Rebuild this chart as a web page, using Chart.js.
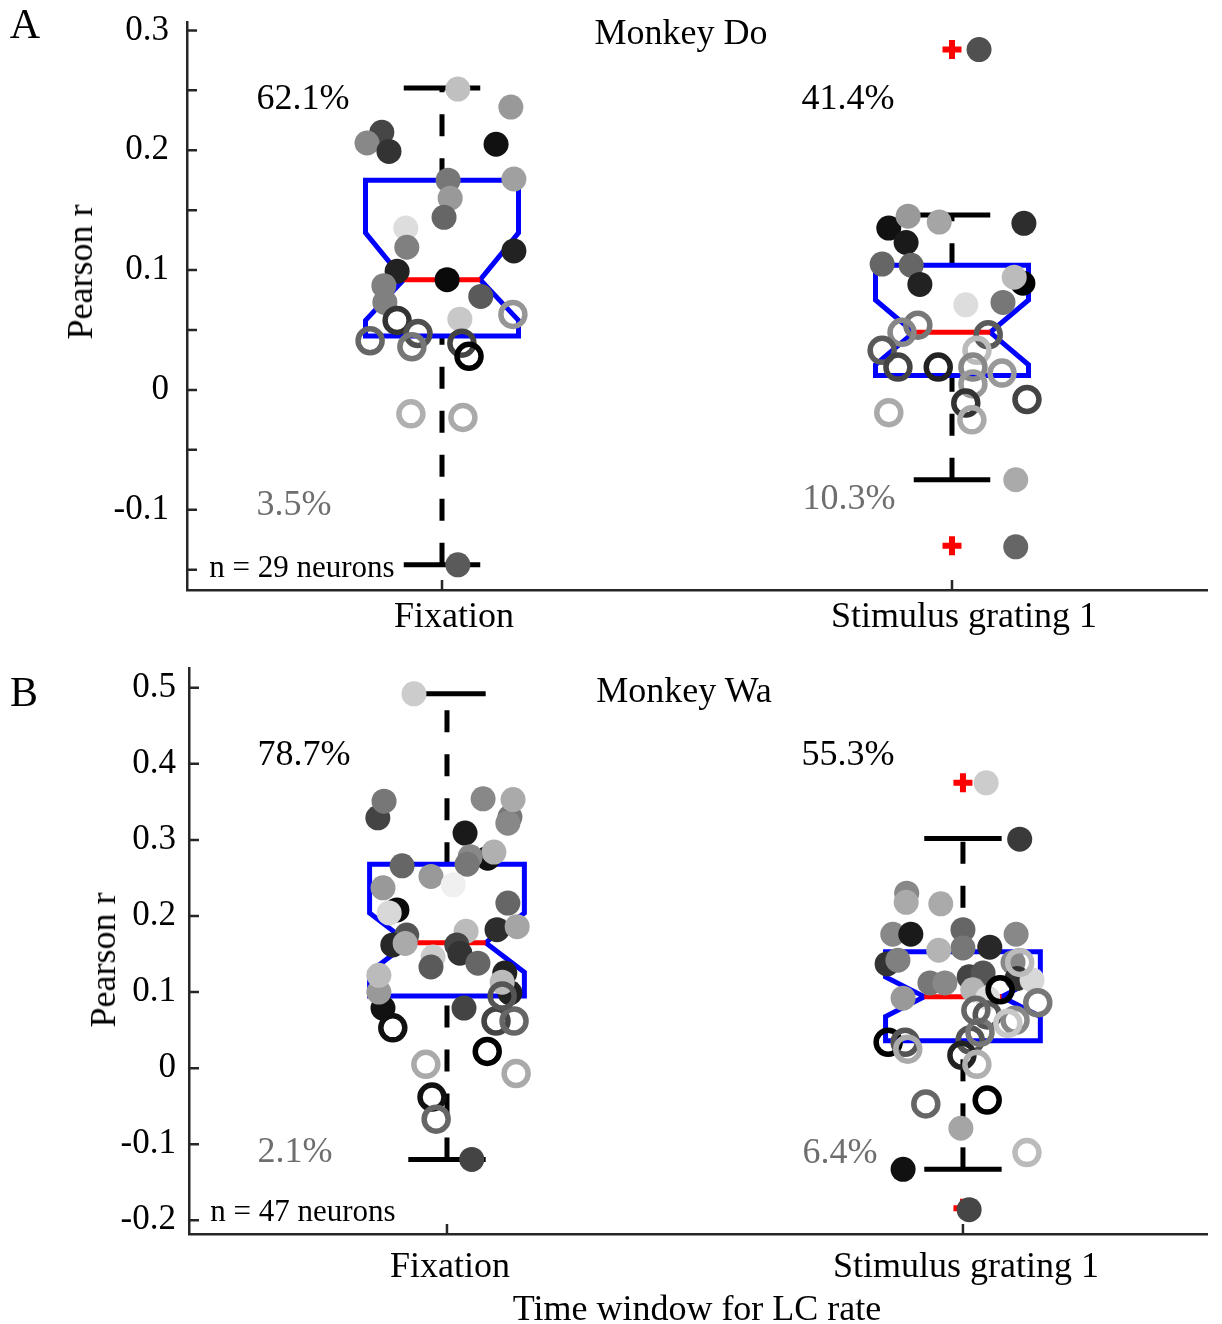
<!DOCTYPE html>
<html>
<head>
<meta charset="utf-8">
<script src="https://cdn.jsdelivr.net/npm/chart.js"></script>
<style>
  body { margin: 0; background: #fff; }
  #wrap { position: relative; width: 1222px; height: 1324px; font-family: "Liberation Serif", "Times New Roman", serif; }
  canvas { position: absolute; left: 0; }
  .t { position: absolute; transform: translate(-50%, -50%); white-space: nowrap; line-height: 1; color: #000; }
  .g { color: #6e6e6e; }
</style>
</head>
<body>
<div id="wrap">
  <canvas id="chartDo" width="1222" height="650" style="top:0px"></canvas>
  <canvas id="chartWa" width="1222" height="674" style="top:650px"></canvas>

  <div class="t" style="left:25px;top:24px;font-size:42px">A</div>
  <div class="t" style="left:681px;top:32px;font-size:36px">Monkey Do</div>
  <div class="t" style="left:303px;top:97px;font-size:36px">62.1%</div>
  <div class="t" style="left:848px;top:97px;font-size:36px">41.4%</div>
  <div class="t g" style="left:294px;top:503px;font-size:36px">3.5%</div>
  <div class="t g" style="left:849px;top:497px;font-size:36px">10.3%</div>
  <div class="t" style="left:302px;top:566px;font-size:31px">n = 29 neurons</div>
  <div class="t" style="left:80px;top:272px;font-size:36px;transform:translate(-50%,-50%) rotate(-90deg)">Pearson r</div>

  <div class="t" style="left:24px;top:692px;font-size:42px">B</div>
  <div class="t" style="left:684px;top:690px;font-size:36px">Monkey Wa</div>
  <div class="t" style="left:304px;top:753px;font-size:36px">78.7%</div>
  <div class="t" style="left:848px;top:753px;font-size:36px">55.3%</div>
  <div class="t g" style="left:295px;top:1150px;font-size:36px">2.1%</div>
  <div class="t g" style="left:840px;top:1151px;font-size:36px">6.4%</div>
  <div class="t" style="left:303px;top:1210px;font-size:31px">n = 47 neurons</div>
  <div class="t" style="left:103px;top:960px;font-size:36px;transform:translate(-50%,-50%) rotate(-90deg)">Pearson r</div>
  <div class="t" style="left:697px;top:1308px;font-size:36px">Time window for LC rate</div>
</div>

<script>
var categories = ["Fixation", "Stimulus grating 1"];

// Monkey Do -- filled dots (significant) and rings (n.s.), gray level per neuron
var doFixDotX = [1.031, 1.135, 0.882, 0.853, 0.896, 1.106, 1.012, 1.141, 1.016, 1.004, 0.929, 0.931, 1.141, 0.912, 1.010, 0.886, 0.888, 1.076, 1.035, 1.031];
var doFixDotY = [0.251, 0.236, 0.215, 0.206, 0.199, 0.205, 0.175, 0.176, 0.160, 0.144, 0.135, 0.119, 0.116, 0.099, 0.092, 0.087, 0.073, 0.078, 0.059, -0.146];
var doFixDotGray = [192, 153, 70, 136, 51, 17, 119, 160, 153, 102, 221, 128, 34, 34, 10, 128, 128, 90, 200, 90];
var doFixRingX = [0.912, 0.953, 0.859, 0.941, 1.039, 1.053, 1.139, 0.939, 1.041];
var doFixRingY = [0.058, 0.047, 0.041, 0.036, 0.039, 0.028, 0.063, -0.020, -0.023];
var doFixRingGray = [51, 80, 102, 119, 68, 0, 150, 176, 170];

var doStimDotX = [2.053, 1.876, 1.914, 1.975, 2.141, 1.910, 1.863, 1.920, 1.937, 2.139, 2.122, 2.027, 2.100, 2.125, 2.125];
var doStimDotY = [0.284, 0.135, 0.145, 0.140, 0.139, 0.123, 0.105, 0.104, 0.088, 0.089, 0.094, 0.071, 0.073, -0.075, -0.131];
var doStimDotGray = [80, 17, 153, 165, 45, 26, 102, 102, 34, 0, 187, 221, 119, 170, 102];
var doStimRingX = [1.933, 1.902, 1.863, 1.894, 1.973, 2.071, 2.049, 2.041, 2.098, 2.041, 2.147, 2.027, 2.039, 1.876];
var doStimRingY = [0.054, 0.048, 0.033, 0.019, 0.019, 0.046, 0.033, 0.019, 0.014, 0.005, -0.008, -0.011, -0.025, -0.019];
var doStimRingGray = [119, 136, 90, 68, 34, 90, 187, 136, 153, 153, 68, 51, 170, 170];

// Monkey Do -- box statistics [Fixation, Stimulus]
var doQ1 = [0.045, 0.012];
var doMedian = [0.092, 0.048];
var doQ3 = [0.175, 0.104];
var doNotchLo = [0.058, 0.021];
var doNotchHi = [0.131, 0.075];
var doWhiskerLo = [-0.146, -0.075];
var doWhiskerHi = [0.252, 0.146];
var doOutlierX = [2, 2];
var doOutlierY = [0.284, -0.130];

// Monkey Wa
var waFixDotX = [0.936, 0.866, 0.878, 1.070, 1.122, 1.118, 1.128, 1.035, 1.079, 1.091, 1.045, 1.039, 0.913, 0.969, 1.012, 0.876, 1.118, 0.903, 0.888, 1.097, 1.136, 1.037, 0.922, 0.895, 0.919, 1.019, 1.025, 0.973, 0.969, 1.060, 0.876, 0.868, 0.868, 1.112, 1.122, 1.107, 1.033, 1.048];
var waFixDotY = [0.492, 0.329, 0.351, 0.354, 0.330, 0.322, 0.353, 0.309, 0.276, 0.284, 0.278, 0.268, 0.266, 0.252, 0.241, 0.237, 0.217, 0.208, 0.204, 0.182, 0.186, 0.180, 0.175, 0.162, 0.164, 0.162, 0.151, 0.146, 0.133, 0.138, 0.079, 0.100, 0.122, 0.125, 0.099, 0.113, 0.079, -0.120];
var waFixDotGray = [204, 68, 119, 136, 119, 136, 170, 26, 17, 176, 136, 119, 102, 153, 240, 153, 102, 10, 216, 45, 165, 187, 85, 40, 170, 68, 51, 204, 90, 102, 17, 153, 187, 34, 34, 187, 68, 68];
var waFixRingX = [0.895, 0.959, 0.971, 0.979, 1.078, 1.134, 1.095, 1.130, 1.107];
var waFixRingY = [0.053, 0.005, -0.038, -0.067, 0.022, -0.007, 0.062, 0.062, 0.095];
var waFixRingGray = [17, 170, 17, 102, 0, 170, 68, 102, 85];

var waStimDotX = [2.045, 2.110, 1.891, 1.890, 1.957, 1.864, 1.899, 2.000, 2.103, 2.000, 1.953, 2.052, 1.853, 1.874, 2.097, 1.936, 1.965, 2.012, 2.039, 2.105, 2.134, 2.019, 1.884, 2.048, 1.996, 1.884, 2.012];
var waStimDotY = [0.375, 0.301, 0.230, 0.218, 0.216, 0.176, 0.176, 0.182, 0.176, 0.158, 0.155, 0.159, 0.137, 0.142, 0.139, 0.112, 0.112, 0.120, 0.125, 0.118, 0.116, 0.103, 0.092, 0.092, -0.079, -0.133, -0.186];
var waStimDotGray = [204, 58, 136, 170, 170, 136, 26, 102, 136, 119, 180, 40, 51, 128, 136, 119, 136, 68, 85, 51, 216, 180, 153, 221, 165, 17, 70];
var waStimRingX = [1.855, 1.888, 1.893, 2.014, 1.998, 2.027, 1.928, 2.047, 2.124, 2.047, 2.101, 2.145, 2.087, 2.110, 2.072, 2.033, 2.025];
var waStimRingY = [0.034, 0.034, 0.025, 0.037, 0.017, 0.005, -0.047, -0.042, -0.111, 0.070, 0.063, 0.086, 0.059, 0.139, 0.103, 0.047, 0.076];
var waStimRingGray = [0, 85, 170, 85, 34, 176, 102, 0, 187, 85, 136, 119, 200, 187, 0, 119, 102];

var waQ1 = [0.095, 0.036];
var waMedian = [0.165, 0.094];
var waQ3 = [0.268, 0.153];
var waNotchLo = [0.126, 0.068];
var waNotchHi = [0.204, 0.120];
var waWhiskerLo = [-0.120, -0.133];
var waWhiskerHi = [0.492, 0.302];
var waOutlierX = [2, 2];
var waOutlierY = [0.375, -0.184];

var FONT = '"Liberation Serif", "Times New Roman", serif';
var AXIS = '#262626';
var BOX_HALF = 0.15, NOTCH_HALF = 0.075, CAP_HALF = 0.075;

function gray(g) {
  return 'rgb(' + g + ',' + g + ',' + g + ')';
}

function pts(xs, ys) {
  return xs.map(function (x, i) { return { x: x, y: ys[i] }; });
}

function dotSet(xs, ys, shades) {
  return {
    type: 'scatter', data: pts(xs, ys), order: 1,
    pointRadius: 12.5, pointBorderWidth: 0,
    pointBackgroundColor: shades.map(gray), pointBorderColor: shades.map(gray)
  };
}

function ringSet(xs, ys, shades) {
  return {
    type: 'scatter', data: pts(xs, ys), order: 0,
    pointRadius: 12, pointBorderWidth: 5.5,
    pointBackgroundColor: 'rgba(0,0,0,0)', pointBorderColor: shades.map(gray)
  };
}

function lineSet(data, color, dash, order) {
  return {
    type: 'line', data: data, borderColor: color, borderWidth: 5,
    borderDash: dash || [], pointRadius: 0, fill: false, tension: 0,
    borderCapStyle: 'butt', borderJoinStyle: 'miter', order: order
  };
}

function boxSets(s) {
  var out = [];
  for (var i = 0; i < 2; i++) {
    var c = i + 1;
    var q1 = s.q1[i], q3 = s.q3[i], md = s.med[i], nl = s.nlo[i], nh = s.nhi[i];
    out.push(lineSet([
      { x: c - BOX_HALF, y: q1 }, { x: c - BOX_HALF, y: nl }, { x: c - NOTCH_HALF, y: md },
      { x: c - BOX_HALF, y: nh }, { x: c - BOX_HALF, y: q3 }, { x: c + BOX_HALF, y: q3 },
      { x: c + BOX_HALF, y: nh }, { x: c + NOTCH_HALF, y: md }, { x: c + BOX_HALF, y: nl },
      { x: c + BOX_HALF, y: q1 }, { x: c - BOX_HALF, y: q1 }, { x: c - BOX_HALF, y: nl }
    ], '#0000ff', null, 4));
    out.push(lineSet([{ x: c - NOTCH_HALF, y: md }, { x: c + NOTCH_HALF, y: md }], '#ff0000', null, 3));
    out.push(lineSet([{ x: c, y: s.wlo[i] }, { x: c, y: q1 }], '#000', [22, 22], 5));
    out.push(lineSet([{ x: c, y: q3 }, { x: c, y: s.whi[i] }], '#000', [22, 22], 5));
    out.push(lineSet([{ x: c - CAP_HALF, y: s.wlo[i] }, { x: c + CAP_HALF, y: s.wlo[i] }], '#000', null, 5));
    out.push(lineSet([{ x: c - CAP_HALF, y: s.whi[i] }, { x: c + CAP_HALF, y: s.whi[i] }], '#000', null, 5));
  }
  out.push({
    type: 'scatter', data: pts(s.ox, s.oy), order: 2,
    pointStyle: 'cross', pointRadius: 9.5, pointBorderWidth: 6,
    pointBorderColor: '#ff0000', pointBackgroundColor: '#ff0000'
  });
  return out;
}

var tickMarks = {
  id: 'tickMarks',
  beforeDatasetsDraw: function (chart) {
    var ctx = chart.ctx, xs = chart.scales.x, ys = chart.scales.y;
    ctx.save();
    ctx.strokeStyle = AXIS;
    ctx.lineWidth = 2.5;
    ctx.beginPath();
    ys.ticks.forEach(function (t) {
      var py = ys.getPixelForValue(t.value);
      ctx.moveTo(ys.right, py);
      ctx.lineTo(ys.right + 10, py);
    });
    xs.ticks.forEach(function (t) {
      var px = xs.getPixelForValue(t.value);
      ctx.moveTo(px, xs.top);
      ctx.lineTo(px, xs.top - 10);
    });
    ctx.stroke();
    ctx.restore();
  }
};

function makeChart(id, cfg) {
  return new Chart(document.getElementById(id), {
    type: 'scatter',
    data: { datasets: cfg.datasets },
    plugins: [tickMarks],
    options: {
      responsive: false,
      animation: false,
      events: [],
      layout: { padding: cfg.padding, autoPadding: false },
      plugins: { legend: { display: false }, tooltip: { enabled: false } },
      scales: {
        x: {
          type: 'linear', min: 0.5, max: cfg.xMax,
          grid: { display: false, drawTicks: false },
          border: { display: true, color: AXIS, width: 2.5 },
          afterBuildTicks: function (s) { s.ticks = [{ value: 1 }, { value: 2 }]; },
          afterFit: function (s) {
            s.height = cfg.xHeight;
            s.paddingLeft = 0; s.paddingRight = 0;
          },
          ticks: {
            autoSkip: false, maxRotation: 0, padding: cfg.xPad, color: '#000',
            labelOffset: cfg.labelOffset,
            font: { family: FONT, size: 36, lineHeight: 1 },
            callback: function (v) { return categories[Math.round(v) - 1]; }
          }
        },
        y: {
          type: 'linear', min: cfg.yMin, max: cfg.yMax,
          grid: { display: false, drawTicks: false },
          border: { display: true, color: AXIS, width: 2.5 },
          afterFit: function (s) {
            s.width = cfg.yWidth;
            s.paddingTop = 0; s.paddingBottom = 0;
          },
          ticks: {
            stepSize: cfg.step, includeBounds: false, autoSkip: false,
            padding: cfg.yPad, color: '#000',
            font: { family: FONT, size: 35, lineHeight: 1 },
            callback: function (v) {
              if (Math.abs(v * 10 - Math.round(v * 10)) > 1e-6) return '';
              return String(Math.round(v * 10) / 10);
            }
          }
        }
      }
    }
  });
}

makeChart('chartDo', {
  padding: { left: 0, top: 22, right: 15, bottom: 0 },
  xHeight: 60, yWidth: 187, xPad: 10, yPad: 18, labelOffset: 12,
  xMax: 2.5, yMin: -0.167, yMax: 0.307, step: 0.05,
  datasets: [
    ringSet(doFixRingX, doFixRingY, doFixRingGray),
    ringSet(doStimRingX, doStimRingY, doStimRingGray),
    dotSet(doFixDotX, doFixDotY, doFixDotGray),
    dotSet(doStimDotX, doStimDotY, doStimDotGray)
  ].concat(boxSets({
    q1: doQ1, q3: doQ3, med: doMedian, nlo: doNotchLo, nhi: doNotchHi,
    wlo: doWhiskerLo, whi: doWhiskerHi, ox: doOutlierX, oy: doOutlierY
  }))
});

makeChart('chartWa', {
  padding: { left: 0, top: 18, right: 15, bottom: 0 },
  xHeight: 90, yWidth: 189, xPad: 16, yPad: 13, labelOffset: 3,
  xMax: 2.473, yMin: -0.218, yMax: 0.526, step: 0.1,
  datasets: [
    ringSet(waFixRingX, waFixRingY, waFixRingGray),
    ringSet(waStimRingX, waStimRingY, waStimRingGray),
    dotSet(waFixDotX, waFixDotY, waFixDotGray),
    dotSet(waStimDotX, waStimDotY, waStimDotGray)
  ].concat(boxSets({
    q1: waQ1, q3: waQ3, med: waMedian, nlo: waNotchLo, nhi: waNotchHi,
    wlo: waWhiskerLo, whi: waWhiskerHi, ox: waOutlierX, oy: waOutlierY
  }))
});
</script>
</body>
</html>
